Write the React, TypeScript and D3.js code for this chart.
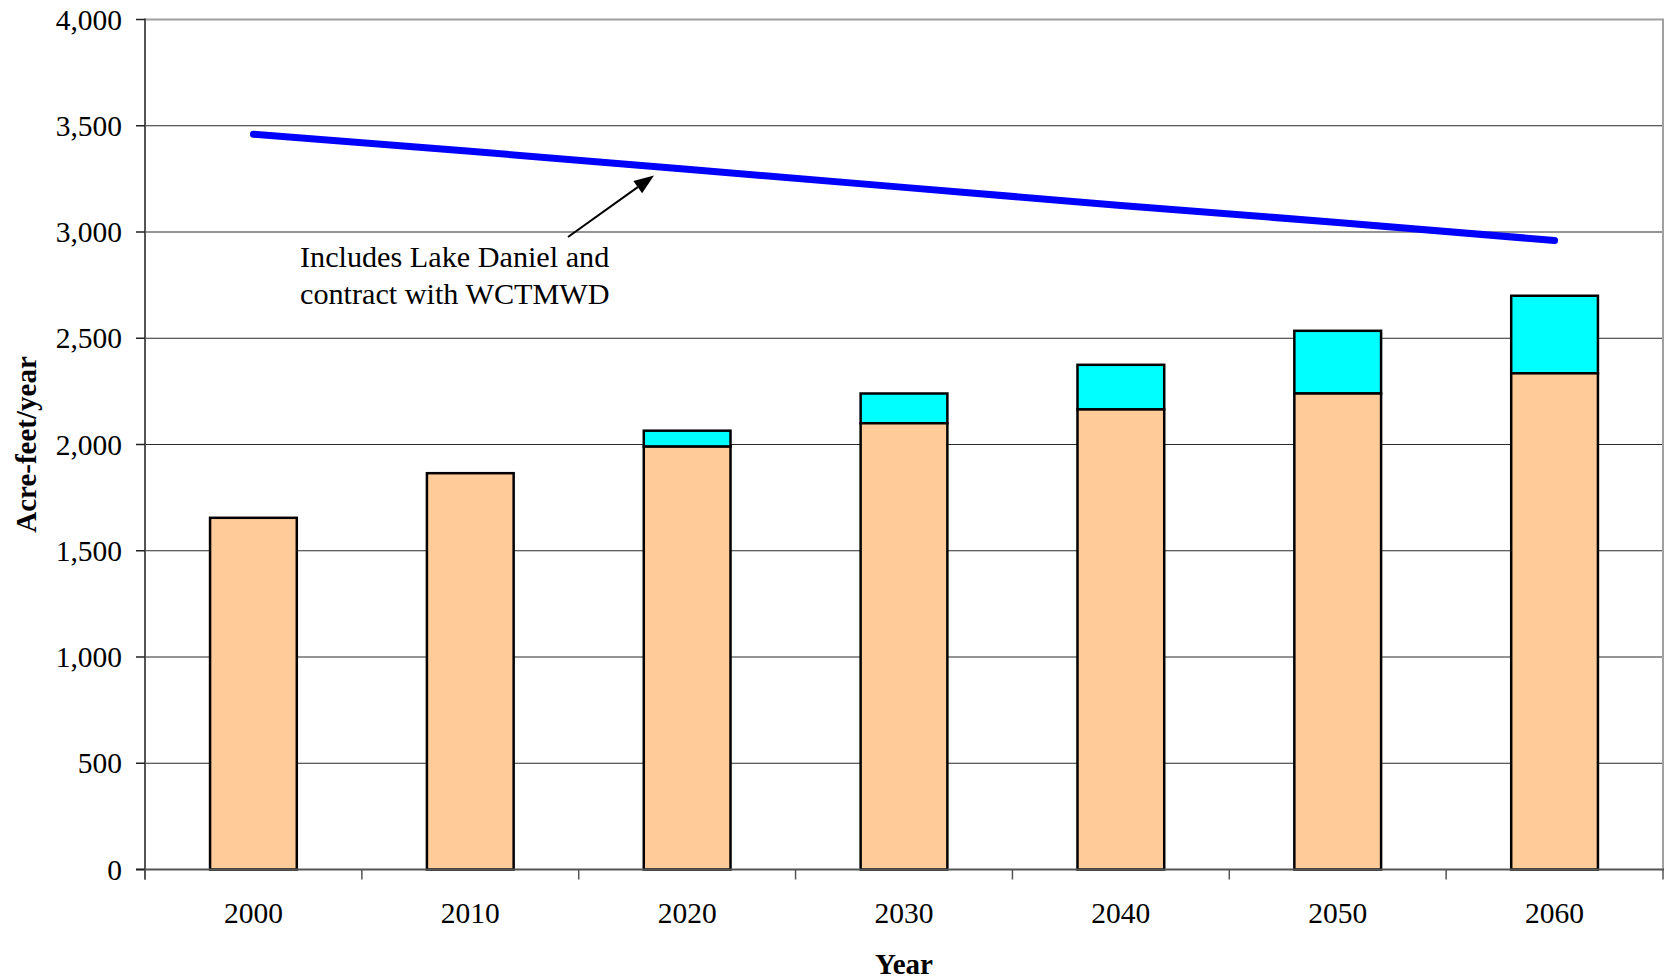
import React from "react";
import * as d3 from "d3";

const years = ["2000", "2010", "2020", "2030", "2040", "2050", "2060"];
const demandBase = [1655, 1865, 1990, 2100, 2165, 2240, 2335];
const demandExtra = [0, 0, 75, 140, 210, 295, 365];
const supply = [3460, 3380, 3295, 3210, 3125, 3045, 2960];
const yTicks = [0, 500, 1000, 1500, 2000, 2500, 3000, 3500, 4000];
const noteLines = ["Includes Lake Daniel and", "contract with WCTMWD"];

const W = 1667;
const H = 980;
const left = 145;
const right = 1663;
const top = 19.5;
const bottom = 869.5;
const FONT = '"Times New Roman", "Liberation Serif", serif';

export default function App() {
  const x = d3.scaleBand<string>().domain(years).range([left, right]).paddingInner(0.6).paddingOuter(0.3);
  const y = d3.scaleLinear().domain([0, 4000]).range([bottom, top]);
  const step = x.step();
  const bw = x.bandwidth();
  const cx = (yr: string) => (x(yr) as number) + bw / 2;

  const lineGen = d3
    .line<number>()
    .x((_, i) => cx(years[i]))
    .y((d) => y(d));

  const boundaries = d3.range(years.length + 1).map((i) => left + i * step);

  // arrow
  const ax0 = 568, ay0 = 237, ax1 = 654, ay1 = 175.5;
  const ang = Math.atan2(ay1 - ay0, ax1 - ax0);
  const hl = 20, hw = 7.5;
  const bx = ax1 - hl * Math.cos(ang), by = ay1 - hl * Math.sin(ang);
  const px = -Math.sin(ang) * hw, py = Math.cos(ang) * hw;
  const head = `M${ax1},${ay1}L${bx + px},${by + py}L${bx - px},${by - py}Z`;

  return (
    <svg width={W} height={H} style={{ position: "absolute", left: 0, top: 0, background: "#fff" }} fontFamily={FONT}>
      <rect x={0} y={0} width={W} height={H} fill="#fff" />
      {/* gridlines */}
      {yTicks.filter((t) => t > 0 && t < 4000).map((t) => (
        <line key={t} x1={left} x2={right} y1={y(t)} y2={y(t)} stroke="#2a2a2a" strokeWidth={1.2} />
      ))}
      {/* plot border top/right */}
      <line x1={left} x2={right + 1} y1={y(4000)} y2={y(4000)} stroke="#a0a0a0" strokeWidth={2} />
      <line x1={right} x2={right} y1={y(4000)} y2={bottom} stroke="#a0a0a0" strokeWidth={2} />
      {/* bars */}
      {years.map((yr, i) => (
        <g key={yr}>
          {demandExtra[i] > 0 && (
            <rect
              x={x(yr)}
              width={bw}
              y={y(demandBase[i] + demandExtra[i])}
              height={y(demandBase[i]) - y(demandBase[i] + demandExtra[i])}
              fill="#00FFFF"
              stroke="#000"
              strokeWidth={2.5}
            />
          )}
          <rect
            x={x(yr)}
            width={bw}
            y={y(demandBase[i])}
            height={y(0) - y(demandBase[i])}
            fill="#FFCC99"
            stroke="#000"
            strokeWidth={2.5}
          />
        </g>
      ))}
      {/* axes */}
      <line x1={left} x2={left} y1={top - 1} y2={bottom + 10} stroke="#555" strokeWidth={2} />
      <line x1={left - 9} x2={right + 1} y1={bottom} y2={bottom} stroke="#555" strokeWidth={2} />
      {yTicks.map((t) => (
        <g key={t}>
          <line x1={left - 9} x2={left} y1={y(t)} y2={y(t)} stroke="#222" strokeWidth={1.5} />
          <text x={122} y={y(t)} dy="0.34em" textAnchor="end" fontSize={29.5} fill="#000">
            {d3.format(",")(t)}
          </text>
        </g>
      ))}
      {boundaries.map((b, i) => (
        <line key={i} x1={b} x2={b} y1={bottom} y2={bottom + 10} stroke="#555" strokeWidth={1.5} />
      ))}
      {years.map((yr) => (
        <text key={yr} x={cx(yr)} y={923} textAnchor="middle" fontSize={29.5} fill="#000">
          {yr}
        </text>
      ))}
      {/* supply line */}
      <path d={lineGen(supply) || ""} fill="none" stroke="#0000FF" strokeWidth={7} strokeLinecap="round" />
      {/* annotation */}
      <line x1={ax0} y1={ay0} x2={bx} y2={by} stroke="#000" strokeWidth={2} />
      <path d={head} fill="#000" />
      {noteLines.map((l, i) => (
        <text key={i} x={300} y={266.5 + i * 37.5} fontSize={30.2} fill="#000">
          {l}
        </text>
      ))}
      {/* axis titles */}
      <text x={(left + right) / 2} y={974} textAnchor="middle" fontSize={29} fontWeight="bold" fill="#000">
        Year
      </text>
      <text
        transform={`translate(35.5,${(top + bottom) / 2}) rotate(-90)`}
        textAnchor="middle"
        fontSize={29}
        fontWeight="bold"
        fill="#000"
      >
        Acre-feet/year
      </text>
    </svg>
  );
}
